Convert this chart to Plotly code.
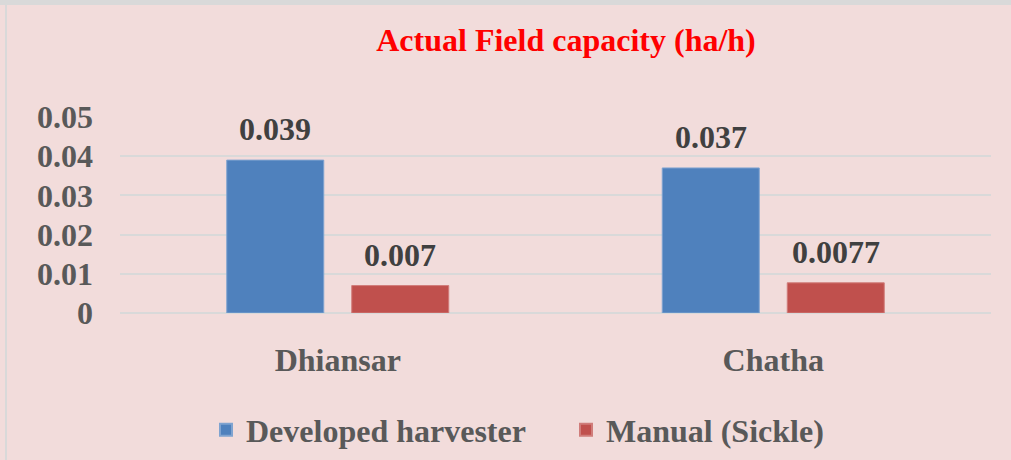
import plotly.graph_objects as go

categories = ["Dhiansar", "Chatha"]
series_names = ["Developed harvester", "Manual (Sickle)"]
developed = [0.039, 0.037]
manual = [0.007, 0.0077]
value_labels = [["0.039", "0.037"], ["0.007", "0.0077"]]
tick_vals = [0, 0.01, 0.02, 0.03, 0.04, 0.05]
tick_text = ["0", "0.01", "0.02", "0.03", "0.04", "0.05"]

colors = ["#4F81BD", "#C0504D"]
line_colors = ["#7FA3D0", "#D07C7A"]
FONT = "Liberation Serif"
GRAY = "#595959"

fig = go.Figure()
for name, vals, c, lc in zip(series_names, [developed, manual], colors, line_colors):
    fig.add_trace(go.Bar(
        x=categories, y=vals, name="<b>" + name + "</b>",
        marker=dict(color=c, line=dict(color=lc, width=1)),
    ))

# data labels
offsets = [-62.5, 62.5]
annotations = []
for s, vals in enumerate([developed, manual]):
    for i, cat in enumerate(categories):
        annotations.append(dict(
            x=cat, y=vals[i], xref="x", yref="y",
            text="<b>" + value_labels[s][i] + "</b>",
            showarrow=False, xshift=offsets[s], yanchor="bottom", yshift=11,
            font=dict(family=FONT, size=32, color="#404040"),
        ))

W, L, R, T, B = 1011, 120, 20, 117, 147
PW = W - L - R
PH = 460 - T - B
def px_x(p):
    return (p - L) / PW
def px_y(p):
    return (460 - B - p) / PH

shapes = [
    dict(type="rect", xref="paper", yref="paper", x0=px_x(-5), x1=px_x(1020),
         y0=px_y(5), y1=px_y(-5), fillcolor="#D9D9D9", line=dict(width=0), layer="below"),
    dict(type="rect", xref="paper", yref="paper", x0=px_x(5), x1=px_x(7),
         y0=px_y(470), y1=px_y(0), fillcolor="#D9D9D9", line=dict(width=0), layer="below"),
]

fig.update_layout(
    width=W, height=460,
    margin=dict(l=L, r=R, t=T, b=B, autoexpand=False),
    paper_bgcolor="#F2DCDB", plot_bgcolor="#F2DCDB",
    barmode="group", bargap=0.426, bargroupgap=0.224,
    title=dict(text="<b>Actual Field capacity (ha/h)</b>", x=566 / W,
               xanchor="center", xref="container", y=1 - 40 / 460, yref="container",
               yanchor="middle", automargin=False,
               font=dict(family=FONT, size=32, color="#FF0000")),
    font=dict(family=FONT, color=GRAY),
    showlegend=True,
    legend=dict(orientation="h", x=px_x(206), xanchor="left", y=px_y(430), yanchor="middle",
                font=dict(family=FONT, size=32, color=GRAY), bgcolor="rgba(0,0,0,0)",
                itemsizing="constant", tracegroupgap=0, entrywidth=315, entrywidthmode="pixels"),
    annotations=annotations,
    shapes=shapes,
)
fig.update_yaxes(range=[0, 0.05], tickvals=tick_vals, ticktext=["<b>%s</b>" % t for t in tick_text],
                 showgrid=True, gridcolor="#D9D9D9", gridwidth=1.5, zeroline=True,
                 zerolinecolor="#D9D9D9", zerolinewidth=1.5, ticks="", ticklabelstandoff=26,
                 tickfont=dict(family=FONT, size=32, color=GRAY), showline=False, automargin=False)
fig.update_xaxes(tickvals=categories, ticktext=["<b>%s</b>" % c for c in categories],
                 ticks="", showline=False, ticklabelstandoff=25, automargin=False,
                 tickfont=dict(family=FONT, size=32, color=GRAY))

fig.write_html("out.html", config={"displayModeBar": False},
               post_script="document.body.style.margin='0';document.body.style.overflow='hidden';")
